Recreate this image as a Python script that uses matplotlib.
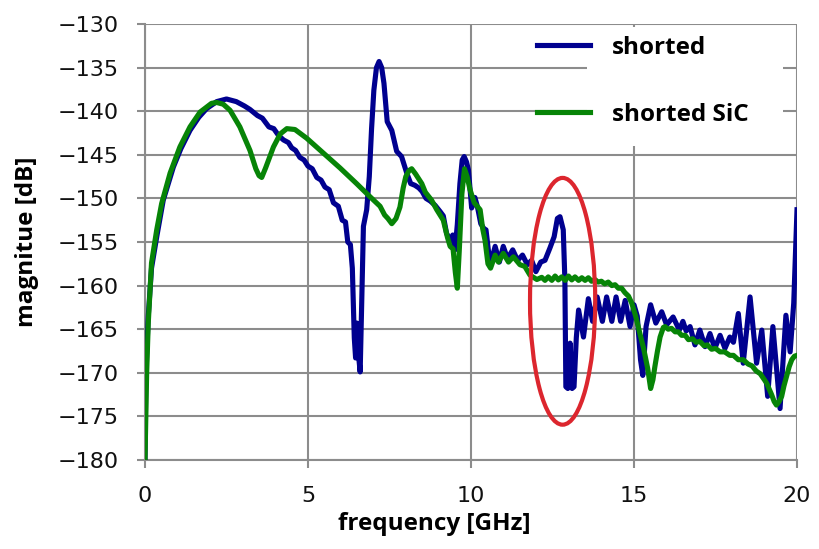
import matplotlib
matplotlib.use("Agg")
import matplotlib.pyplot as plt
from matplotlib.patches import Ellipse, Rectangle

# Measured transmission magnitude, shorted line
freq_shorted = [
    0.0, 0.02, 0.05, 0.1, 0.2, 0.36, 0.56, 0.87, 1.1, 1.38, 1.65, 1.89, 2.2, 2.5, 2.8,
    3.05, 3.22, 3.45, 3.6, 3.8, 3.95, 4.1, 4.25, 4.4, 4.5, 4.62, 4.75, 4.88, 5.0, 5.13,
    5.27, 5.4, 5.52, 5.65, 5.78, 5.93, 6.05, 6.15, 6.22, 6.3, 6.36, 6.42, 6.46, 6.5, 6.55,
    6.6, 6.64, 6.7, 6.8, 6.88, 6.95, 7.02, 7.1, 7.18, 7.26, 7.33, 7.43, 7.57, 7.72, 7.87,
    8.03, 8.15, 8.28, 8.4, 8.5, 8.62, 8.75, 8.9, 9.05, 9.15, 9.25, 9.36, 9.44, 9.51, 9.58,
    9.66, 9.73, 9.79, 9.86, 9.92, 10.02, 10.12, 10.2, 10.3, 10.4, 10.46, 10.55, 10.63,
    10.74, 10.87, 10.99, 11.12, 11.28, 11.43, 11.58, 11.73, 11.86, 11.99, 12.14, 12.27,
    12.42, 12.55, 12.65, 12.73, 12.83, 12.88, 12.91, 12.97, 13.04, 13.1, 13.16, 13.23,
    13.3, 13.45, 13.6, 13.73, 13.87, 14.03, 14.16, 14.32, 14.45, 14.59, 14.73, 14.88,
    15.0, 15.1, 15.2, 15.27, 15.37, 15.51, 15.67, 15.85, 16.0, 16.2, 16.39, 16.5, 16.6,
    16.72, 16.87, 17.02, 17.18, 17.33, 17.48, 17.64, 17.79, 17.94, 18.05, 18.2, 18.35,
    18.56, 18.76, 18.92, 19.1, 19.26, 19.48, 19.66, 19.79, 19.9, 20.0,
]
mag_shorted = [
    -180.0, -172.0, -168.0, -163.5, -158.0, -154.4, -150.2, -146.4, -144.3, -142.2, -140.7,
    -139.7, -138.9, -138.6, -138.9, -139.4, -139.8, -140.5, -140.8, -141.8, -142.0, -142.8,
    -143.3, -143.6, -144.2, -144.5, -145.3, -145.6, -146.3, -146.6, -147.6, -147.9, -148.7,
    -149.0, -150.5, -150.9, -152.5, -152.7, -155.0, -155.3, -158.0, -166.0, -168.3, -164.3,
    -168.0, -169.9, -163.0, -153.2, -151.3, -147.5, -142.0, -137.6, -135.0, -134.3, -135.0,
    -136.8, -141.2, -142.2, -144.6, -145.2, -147.1, -148.3, -148.5, -148.8, -149.2, -150.0,
    -150.3, -150.8, -151.5, -152.0, -154.0, -154.8, -154.2, -155.9, -153.0, -148.3, -145.6,
    -145.2, -145.8, -146.7, -151.1, -149.9, -151.0, -152.9, -153.5, -153.6, -156.5, -157.1,
    -155.5, -157.3, -155.5, -156.9, -155.9, -157.1, -156.5, -157.6, -157.1, -158.4, -157.3,
    -157.1, -155.7, -154.4, -152.3, -152.1, -153.6, -159.4, -171.6, -171.8, -166.6, -171.8,
    -171.6, -166.0, -162.8, -165.9, -161.5, -164.1, -161.3, -164.1, -161.3, -164.1, -161.3,
    -164.1, -161.7, -164.7, -162.2, -163.5, -168.5, -170.3, -164.7, -162.2, -164.3, -163.0,
    -164.5, -163.6, -165.1, -164.1, -165.2, -164.7, -166.8, -165.1, -167.0, -165.5, -167.2,
    -165.7, -167.2, -165.9, -166.5, -163.2, -168.9, -161.3, -168.9, -165.1, -172.7, -164.7,
    -174.1, -163.4, -167.6, -162.0, -151.3,
]

# Measured transmission magnitude, shorted line with SiC absorber
freq_sic = [
    0.0, 0.05, 0.1, 0.2, 0.36, 0.51, 0.77, 1.07, 1.38, 1.69, 2.04, 2.2, 2.4, 2.61, 2.91,
    3.22, 3.4, 3.5, 3.58, 3.7, 3.94, 4.15, 4.35, 4.6, 4.96, 5.47, 5.98, 6.49, 6.9, 7.21,
    7.35, 7.45, 7.57, 7.7, 7.82, 7.92, 8.0, 8.1, 8.18, 8.3, 8.49, 8.6, 8.79, 8.95, 9.15,
    9.28, 9.36, 9.45, 9.52, 9.58, 9.64, 9.72, 9.8, 9.88, 9.97, 10.1, 10.28, 10.36, 10.43,
    10.52, 10.6, 10.74, 10.84, 10.99, 11.15, 11.3, 11.5, 11.65, 11.81, 12.02, 12.17, 12.27,
    12.37, 12.48, 12.58, 12.68, 12.78, 12.89, 12.99, 13.09, 13.19, 13.3, 13.4, 13.5, 13.6,
    13.7, 13.8, 13.9, 14.0, 14.1, 14.21, 14.32, 14.42, 14.52, 14.62, 14.72, 14.83, 14.93,
    15.05, 15.18, 15.3, 15.42, 15.51, 15.58, 15.64, 15.72, 15.8, 15.9, 15.95, 16.05, 16.15,
    16.26, 16.36, 16.46, 16.57, 16.67, 16.8, 16.9, 17.02, 17.15, 17.25, 17.38, 17.5, 17.64,
    17.78, 17.94, 18.05, 18.2, 18.35, 18.5, 18.62, 18.75, 18.87, 19.0, 19.07, 19.15, 19.22,
    19.3, 19.37, 19.45, 19.53, 19.6, 19.68, 19.76, 19.84, 19.92, 20.0,
]
mag_sic = [
    -180.0, -170.1, -164.3, -157.4, -153.6, -150.6, -147.1, -144.1, -141.8, -140.1, -139.1,
    -139.0, -139.2, -139.9, -141.8, -144.5, -146.6, -147.4, -147.6, -146.5, -144.1, -142.6,
    -142.0, -142.1, -143.1, -144.8, -146.5, -148.3, -149.8, -150.9, -151.9, -152.3, -152.9,
    -152.3, -151.0, -148.8, -147.5, -146.8, -146.6, -147.2, -148.3, -149.3, -150.2, -151.3,
    -152.5, -154.5, -155.5, -155.8, -158.5, -160.3, -156.0, -149.5, -146.6, -147.5, -149.0,
    -150.5, -151.3, -153.5, -154.8, -157.5, -158.0, -156.5, -157.3, -156.3, -157.3, -156.7,
    -157.6, -157.8, -158.8, -159.3, -159.05, -159.4, -159.0, -159.4, -158.9, -159.35, -159.0,
    -159.4, -158.9, -159.35, -159.0, -159.4, -159.1, -159.4, -159.1, -159.5, -159.3, -159.6,
    -159.5, -159.8, -159.6, -160.0, -159.9, -160.3, -160.3, -160.8, -161.2, -162.0, -163.5,
    -165.5, -167.3, -169.5, -171.8, -170.8, -169.3, -167.5, -165.9, -164.8, -164.7, -165.0,
    -164.9, -165.3, -165.3, -165.7, -165.7, -166.2, -166.1, -166.5, -166.4, -166.9, -166.8,
    -167.3, -167.2, -167.6, -167.6, -168.0, -168.0, -168.5, -168.5, -169.0, -169.2, -169.8,
    -170.1, -170.8, -171.2, -171.9, -172.5, -173.3, -173.7, -173.3, -172.7, -171.5, -170.4,
    -169.3, -168.5, -168.1, -168.0,
]

series_labels = ["shorted", "shorted SiC"]
series_colors = ["#00008f", "#078407"]

x_ticks = [0, 5, 10, 15, 20]
y_ticks = list(range(-180, -129, 5))

# highlighted resonance region (center frequency, center magnitude, width, height)
marker_center = (12.81, -161.8)
marker_size = (2.0, 28.3)

GRID = "#8c8c8c"
TICK_FONT = ["DejaVu Sans"]
LABEL_FONT = ["Open Sans", "DejaVu Sans"]

fig = plt.figure(figsize=(8.19, 5.49), dpi=100)
ax = fig.add_axes([145 / 819, 1 - 460 / 549, 652 / 819, 436 / 549])

ax.set_xlim(0, 20)
ax.set_ylim(-180, -130)
ax.set_xticks(x_ticks)
ax.set_yticks(y_ticks)
ax.set_axisbelow(True)
ax.grid(True, color=GRID, linewidth=1.5)

for side in ("top", "right"):
    ax.spines[side].set_visible(False)
for side in ("left", "bottom"):
    ax.spines[side].set_color(GRID)
    ax.spines[side].set_linewidth(1.5)

ax.tick_params(axis="both", direction="out", length=6, width=1.5, color=GRID,
               labelsize=16, labelcolor="#111111", pad=13)
for lab in ax.get_xticklabels() + ax.get_yticklabels():
    lab.set_family(TICK_FONT)

# white panel behind the legend text
ax.add_patch(Rectangle((587 / 819, 1 - 146 / 549), 196 / 819, 119 / 549,
                       transform=fig.transFigure, facecolor="white",
                       edgecolor="none", zorder=1))

l1, = ax.plot(freq_shorted, mag_shorted, color=series_colors[0], linewidth=3.7,
              solid_joinstyle="round", zorder=3, label=series_labels[0])
l2, = ax.plot(freq_sic, mag_sic, color=series_colors[1], linewidth=3.7,
              solid_joinstyle="round", zorder=3, label=series_labels[1])

ax.add_patch(Ellipse(marker_center, marker_size[0], marker_size[1], fill=False,
                     edgecolor="#dc262e", linewidth=3, zorder=5))

leg = ax.legend(handles=[l1, l2], loc="upper left",
                bbox_to_anchor=(537 / 819, 1 - 36 / 549),
                bbox_transform=fig.transFigure, frameon=False,
                handlelength=2.2, handletextpad=0.9, labelspacing=1.75,
                borderpad=0, borderaxespad=0,
                prop={"family": LABEL_FONT, "weight": "bold", "size": 17.5})

ax.set_xlabel("frequency [GHz]", family=LABEL_FONT, fontweight="bold", fontsize=17.5)
ax.set_ylabel("magnitue [dB]", family=LABEL_FONT, fontweight="bold", fontsize=17.5)
ax.xaxis.set_label_coords(0.443, -0.12)
ax.yaxis.set_label_coords(-0.163, 0.5)

fig.savefig("out.png", dpi=100)
